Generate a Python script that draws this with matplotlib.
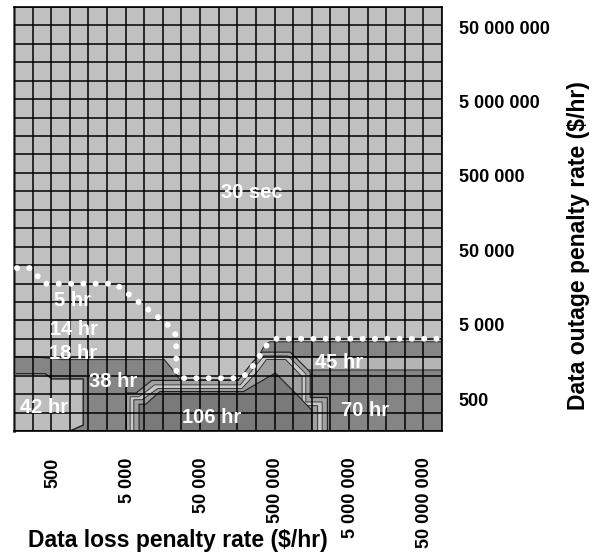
import numpy as np
import matplotlib
matplotlib.use('Agg')
import matplotlib.pyplot as plt
from matplotlib.ticker import FixedLocator, NullFormatter

plt.rcParams['font.family'] = ['Liberation Sans', 'DejaVu Sans']
plt.rcParams['font.weight'] = 'bold'

# axis range (log10 of $/hr) and grid
x_log_range = [2.18, 7.93]
y_log_range = [2.27, 7.97]
n_cells = 23

tick_values = [500, 5000, 50000, 500000, 5000000, 50000000]
tick_labels = ['500', '5 000', '50 000', '500 000', '5 000 000', '50 000 000']

# region boundaries, log10 of ($/hr)
dark_x = [2.18, 2.45, 2.82, 4.20, 4.33, 4.41, 5.19, 5.35, 5.55, 5.62, 7.93, 7.93, 2.18]
dark_y = [3.27, 3.27, 3.23, 3.23, 3.07, 2.96, 2.96, 3.06, 3.43, 3.47, 3.47, 2.27, 2.27]

stripe45_x = [5.86, 7.93, 7.93, 6.02, 5.89]
stripe45_y = [3.27, 3.27, 3.09, 3.09, 3.19]

r42_x = [2.18, 2.60, 2.69, 3.11, 3.11, 2.93, 2.18]
r42_y = [3.04, 3.04, 2.97, 2.97, 2.35, 2.27, 2.27]

mesa1_x = [3.69, 3.69, 3.82, 4.03, 5.19, 5.38, 5.51, 5.89, 6.16, 6.16, 6.39, 6.39]
mesa1_y = [2.27, 2.78, 2.78, 2.95, 2.95, 3.19, 3.33, 3.33, 3.06, 2.72, 2.72, 2.27]
mesa2_x = [3.74, 3.74, 3.86, 4.07, 5.22, 5.43, 5.54, 5.86, 6.10, 6.10, 6.32, 6.32]
mesa2_y = [2.27, 2.73, 2.73, 2.89, 2.89, 3.15, 3.28, 3.28, 3.04, 2.66, 2.66, 2.27]
mesa3_x = [3.79, 3.79, 3.90, 4.11, 5.24, 5.46, 5.57, 5.83, 6.05, 6.05, 6.26, 6.26]
mesa3_y = [2.27, 2.69, 2.69, 2.84, 2.84, 3.08, 3.23, 3.23, 3.00, 2.61, 2.61, 2.27]
core_x = [3.86, 3.86, 3.95, 4.14, 5.26, 5.69, 6.00, 6.18, 6.18]
core_y = [2.27, 2.63, 2.63, 2.80, 2.80, 3.05, 2.74, 2.55, 2.27]

# 30 sec boundary (dotted)
sec30_x = [2.22, 2.41, 2.58, 3.54, 4.28, 4.36, 4.36, 4.41, 5.19, 5.32, 5.58, 5.70, 7.93]
sec30_y = [4.46, 4.46, 4.25, 4.25, 3.67, 3.55, 3.08, 2.98, 2.98, 3.04, 3.43, 3.51, 3.51]

region_labels = ['30 sec', '5 hr', '14 hr', '18 hr', '38 hr', '42 hr', '106 hr', '45 hr', '70 hr']
label_x = [5.38, 2.96, 2.99, 2.97, 3.51, 2.59, 4.84, 6.55, 6.89]
label_y = [5.47, 4.02, 3.64, 3.31, 2.94, 2.59, 2.45, 3.19, 2.55]


def pw(a):
    return np.power(10.0, np.array(a))


fig = plt.figure(figsize=(5.95, 5.56), dpi=100)
ax = fig.add_axes([14 / 595, 1 - 431 / 556, 428 / 595, 424 / 556])
ax.set_xscale('log')
ax.set_yscale('log')
ax.set_xlim(pw(x_log_range))
ax.set_ylim(pw(y_log_range))
ax.set_facecolor('#c0c0c0')

ax.fill(pw(dark_x), pw(dark_y), facecolor='#858585', edgecolor='#333333', lw=0.8, zorder=1)
ax.fill(pw(stripe45_x), pw(stripe45_y), facecolor='#b4b4b4', edgecolor='#333333', lw=0.8, zorder=1)
ax.fill(pw(r42_x), pw(r42_y), facecolor='#bdbdbd', edgecolor='#222222', lw=1.0, zorder=1)
ax.fill(pw(mesa1_x), pw(mesa1_y), facecolor='#a2a2a2', edgecolor='#222222', lw=0.8, zorder=1)
ax.fill(pw(mesa2_x), pw(mesa2_y), facecolor='#c8c8c8', edgecolor='#333333', lw=0.6, zorder=1)
ax.fill(pw(mesa3_x), pw(mesa3_y), facecolor='#a0a0a0', edgecolor='#222222', lw=0.6, zorder=1)
ax.fill(pw(core_x), pw(core_y), facecolor='#7a7a7a', edgecolor='#222222', lw=0.8, zorder=1)

# cell grid
ax.xaxis.set_minor_locator(FixedLocator(pw(np.linspace(*x_log_range, n_cells + 1))))
ax.yaxis.set_minor_locator(FixedLocator(pw(np.linspace(*y_log_range, n_cells + 1))))
ax.xaxis.set_minor_formatter(NullFormatter())
ax.yaxis.set_minor_formatter(NullFormatter())
ax.grid(which='minor', color='black', lw=1.1, zorder=2)
ax.set_axisbelow(False)

ax.plot(pw(sec30_x), pw(sec30_y), color='white', lw=4.3, linestyle=(0, (0.01, 2.05)),
        dash_capstyle='round', zorder=4)

for t, lx, ly in zip(region_labels, label_x, label_y):
    ax.text(10 ** lx, 10 ** ly, t, color='white', fontsize=14.5, fontweight='bold',
            ha='center', va='center', zorder=5)

ax.xaxis.set_major_locator(FixedLocator(tick_values))
ax.set_xticklabels(tick_labels, rotation=90, fontsize=13, fontweight='bold')
ax.yaxis.tick_right()
ax.yaxis.set_major_locator(FixedLocator(tick_values))
ax.set_yticklabels(tick_labels, fontsize=13, fontweight='bold')
ax.tick_params(which='both', length=0)
ax.tick_params(axis='x', pad=19)
ax.tick_params(axis='y', pad=12)

for s in ax.spines.values():
    s.set_color('black')
    s.set_linewidth(1.2)
ax.spines['left'].set_color('#555555')
ax.spines['left'].set_linewidth(2)

ax.set_xlabel('Data loss penalty rate ($/hr)', fontsize=16.5, fontweight='bold', ha='left', va='center')
ax.xaxis.set_label_coords((28 - 14) / 428, (431 - 541) / 424)
ax.yaxis.set_label_position('right')
ax.set_ylabel('Data outage penalty rate ($/hr)', fontsize=16.5, fontweight='bold',
              rotation=90, ha='center', va='center')
ax.yaxis.set_label_coords((578 - 14) / 428, (431 - 246) / 424)

fig.savefig('out.png', dpi=100)
